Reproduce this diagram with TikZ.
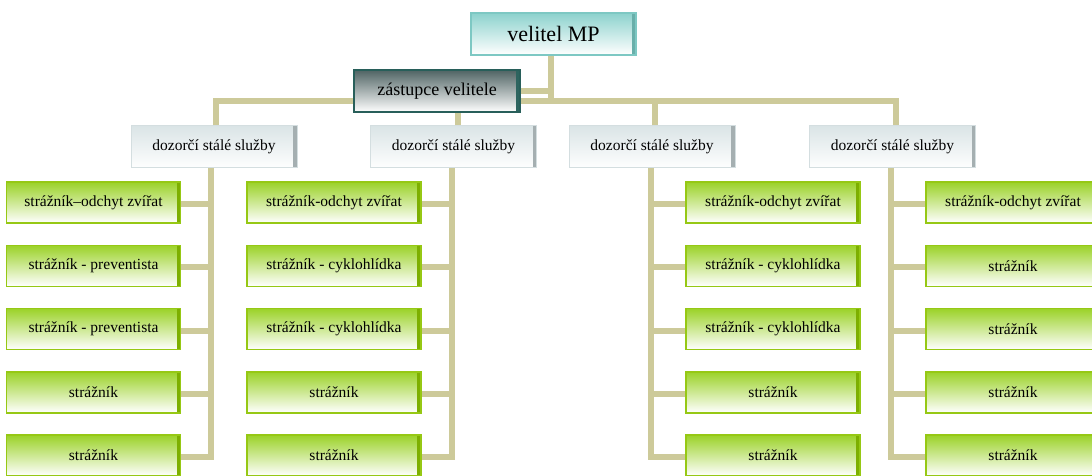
\documentclass[tikz,border=0pt]{standalone}
\usepackage{fontspec}
\setmainfont{Liberation Serif}
\usetikzlibrary{calc}
\definecolor{connC}{RGB}{205,202,154}
\definecolor{velB}{RGB}{125,200,195}
\definecolor{velT}{RGB}{140,210,205}
\definecolor{velS}{RGB}{105,175,170}
\definecolor{zvB}{RGB}{40,95,90}
\definecolor{zvT}{RGB}{80,100,100}
\definecolor{zvS}{RGB}{45,100,95}
\definecolor{dzB}{RGB}{212,222,224}
\definecolor{dzT}{RGB}{218,228,230}
\definecolor{dzS}{RGB}{165,175,177}
\definecolor{chB}{RGB}{150,200,20}
\definecolor{chT}{RGB}{155,210,40}
\definecolor{chM}{RGB}{220,240,180}
\definecolor{chS}{RGB}{125,175,0}
\tikzset{
  conn/.style={draw=connC,line width=6pt,line join=miter},
  bevel/.style={path picture={\fill[#1]([xshift=-4pt]path picture bounding box.north east) rectangle (path picture bounding box.south east);}},
  basebox/.style={rectangle,inner sep=0pt,text=black,anchor=center},
  topbox/.style={basebox,minimum width=165pt,minimum height=42pt,draw=velB,line width=1.5pt,top color=velT,bottom color=white,bevel=velS,font=\fontsize{22}{24}\selectfont},
  deputybox/.style={basebox,minimum width=166pt,minimum height=42pt,draw=zvB,line width=1.5pt,top color=zvT,bottom color=white,bevel=zvS,font=\fontsize{18}{20}\selectfont},
  dutybox/.style={basebox,minimum width=166pt,minimum height=42pt,draw=dzB,line width=1pt,top color=dzT,bottom color=white!96!dzT,bevel=dzS,font=\fontsize{15.5}{17}\selectfont},
  childbox/.style={basebox,minimum width=174pt,minimum height=41pt,draw=chB,line width=1.5pt,top color=chT,middle color=chM,bottom color=white,bevel=chS,font=\fontsize{15.5}{17}\selectfont}
}
\begin{document}
\begin{tikzpicture}[x=1pt,y=1pt]
\useasboundingbox (0,0) rectangle (1092,-475);
\coordinate (bus) at (0,-101);
% nodes
\node[topbox] (vm) at (553.5,-34) {velitel MP};
\node[dutybox] (d1) at (214,-146.5) {dozorčí stálé služby};
\node[dutybox] (d2) at (453.5,-146.5) {dozorčí stálé služby};
\node[dutybox] (d3) at (652,-146.5) {dozorčí stálé služby};
\node[dutybox] (d4) at (892.5,-146.5) {dozorčí stálé služby};
% connectors (behind deputy box)
\draw[conn] ([xshift=2pt]d1.north) |- ([xshift=3pt]d4.north |- bus) -- ([xshift=3pt]d4.north);
\draw[conn] ([xshift=-2.5pt]vm.south) -- ([xshift=-2.5pt]vm.south |- bus);
\draw[conn] ([xshift=4.5pt]d2.north) -- ([xshift=4.5pt]d2.north |- bus);
\draw[conn] ([xshift=3pt]d3.north) -- ([xshift=3pt]d3.north |- bus);
\node[deputybox] (zv) at (437,-91) {zástupce velitele};
\draw[conn] (zv.east) -- ([xshift=-2.5pt]vm.south |- zv.east);
% children column 1
\node[childbox] (a1) at (93.5,-202.5) {strážník–odchyt zvířat};
\node[childbox] (a2) at (93.5,-265.75) {strážník - preventista};
\node[childbox] (a3) at (93.5,-329) {strážník - preventista};
\node[childbox] (a4) at (93.5,-392.25) {strážník};
\node[childbox] (a5) at (93.5,-455.5) {strážník};
% column 2
\node[childbox] (b1) at (334,-202.5) {strážník-odchyt zvířat};
\node[childbox] (b2) at (334,-265.75) {strážník - cyklohlídka};
\node[childbox] (b3) at (334,-329) {strážník - cyklohlídka};
\node[childbox] (b4) at (334,-392.25) {strážník};
\node[childbox] (b5) at (334,-455.5) {strážník};
% column 3
\node[childbox] (c1) at (773,-202.5) {strážník-odchyt zvířat};
\node[childbox] (c2) at (773,-265.75) {strážník - cyklohlídka};
\node[childbox] (c3) at (773,-329) {strážník - cyklohlídka};
\node[childbox] (c4) at (773,-392.25) {strážník};
\node[childbox] (c5) at (773,-455.5) {strážník};
% column 4
\node[childbox] (e1) at (1013,-202.5) {strážník-odchyt zvířat};
\node[childbox] (e2) at (1013,-265.75) {strážník};
\node[childbox] (e3) at (1013,-329) {strážník};
\node[childbox] (e4) at (1013,-392.25) {strážník};
\node[childbox] (e5) at (1013,-455.5) {strážník};
% column connectors
\draw[conn] ([xshift=-3pt]d1.south) |- ($(a5.east)+(0,-1.5)$);
\draw[conn] ([xshift=-1.5pt]d2.south) |- ($(b5.east)+(0,-1.5)$);
\draw[conn] ([xshift=-1pt]d3.south) |- ($(c5.west)+(0,-1.5)$);
\draw[conn] ([xshift=-1.5pt]d4.south) |- ($(e5.west)+(0,-1.5)$);
% branch connectors
\foreach \n in {a1,a2,a3,a4} \draw[conn] ($(\n.east)+(0,-1.5)$) -- ($(\n.east -| d1.south)+(-3,-1.5)$);
\foreach \n in {b1,b2,b3,b4} \draw[conn] ($(\n.east)+(0,-1.5)$) -- ($(\n.east -| d2.south)+(-1.5,-1.5)$);
\foreach \n in {c1,c2,c3,c4} \draw[conn] ($(\n.west)+(0,-1.5)$) -- ($(\n.west -| d3.south)+(-1,-1.5)$);
\foreach \n in {e1,e2,e3,e4} \draw[conn] ($(\n.west)+(0,-1.5)$) -- ($(\n.west -| d4.south)+(-1.5,-1.5)$);
\end{tikzpicture}
\end{document}
